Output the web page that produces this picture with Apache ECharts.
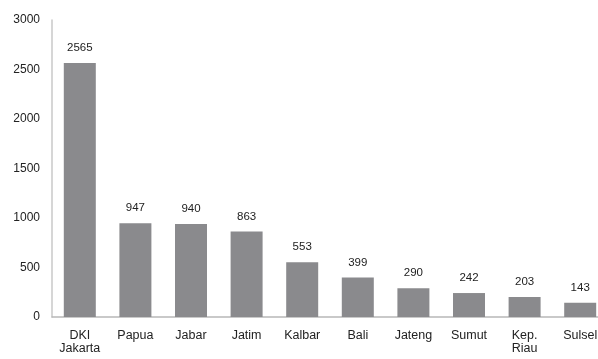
<!DOCTYPE html>
<html><head><meta charset="utf-8">
<script src="https://cdn.jsdelivr.net/npm/echarts@6/dist/echarts.min.js"></script>
<style>html,body{margin:0;padding:0;background:#fff;overflow:hidden}#wrap{width:598px;height:359px;overflow:hidden}#c{width:620px;height:359px}</style>
</head><body><div id="wrap"><div id="c"></div></div>
<script>
const categories = ["DKI\nJakarta","Papua","Jabar","Jatim","Kalbar","Bali","Jateng","Sumut","Kep.\nRiau","Sulsel"];
const values = [2565,947,940,863,553,399,290,242,203,143];
const yTicks = [0,500,1000,1500,2000,2500,3000];
const chart = echarts.init(document.getElementById('c'), null, {renderer:'canvas'});
chart.setOption({
  animation:false,
  textStyle:{fontFamily:'Liberation Sans, Arial, sans-serif'},
  grid:{left:52, top:20, width:556, bottom:42, containLabel:false},
  xAxis:{type:'category', data:categories,
    axisLine:{lineStyle:{color:'#b8b8b8', width:1.5}},
    axisTick:{show:false},
    axisLabel:{color:'#222', fontSize:12.5, margin:12, lineHeight:13, interval:0}},
  yAxis:{type:'value', min:yTicks[0], max:yTicks[yTicks.length-1], interval:500,
    axisLine:{show:true, lineStyle:{color:'#c8c8c8', width:1.5}},
    axisTick:{show:false}, splitLine:{show:false},
    axisLabel:{color:'#222', fontSize:12, margin:12, formatter:function(v){return String(v);}}},
  series:[{type:'bar', data:values, barWidth:32,
    itemStyle:{color:'#8a8a8d'},
    label:{show:true, position:'top', distance:9, color:'#222', fontSize:11.5}}]
});
</script></body></html>
